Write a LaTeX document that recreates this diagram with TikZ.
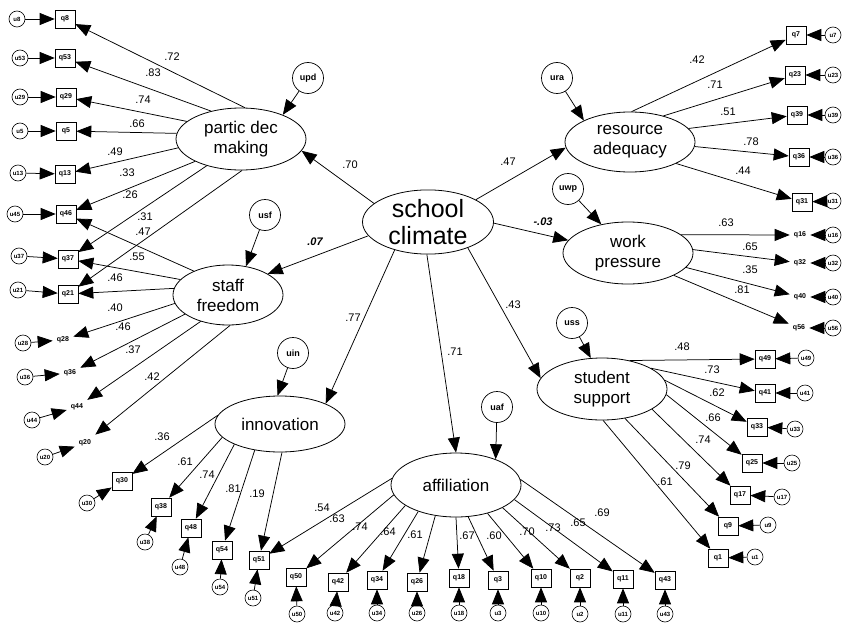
\documentclass[tikz,border=0pt]{standalone}
\usepackage{fontspec}
\setmainfont{Liberation Sans}
\usetikzlibrary{shapes.geometric,arrows.meta}
\begin{document}
\begin{tikzpicture}[x=1pt,y=-1pt,
  lat/.style={ellipse, draw, line width=0.8pt, minimum width=130pt, minimum height=62pt, inner sep=0pt, align=center, font=\fontsize{17}{20}\selectfont},
  obs/.style={rectangle, draw, line width=0.6pt, minimum width=20pt, minimum height=18pt, inner sep=0pt, font=\fontsize{7}{7}\selectfont\bfseries},
  obsn/.style={obs, draw=none},
  err/.style={circle, draw, line width=0.6pt, minimum size=16pt, inner sep=0pt, font=\fontsize{6}{6}\selectfont\bfseries},
  lerr/.style={circle, draw, line width=0.7pt, minimum size=31pt, inner sep=0pt, font=\fontsize{9}{9}\selectfont\bfseries},
  pa/.style={-{Triangle[length=15pt,width=12pt]}, line width=0.75pt},
  lbl/.style={font=\fontsize{11}{11}\selectfont, inner sep=0pt},
  lbli/.style={font=\fontsize{11}{11}\selectfont\bfseries\itshape, inner sep=0pt}]
\useasboundingbox (0,0) rectangle (842,623);
\fill[white] (0,0) rectangle (842,623);

% latent variables
\node[lat, minimum width=131pt, minimum height=52pt, font=\fontsize{25}{27}\selectfont] (sc) at (428,222) {school\\climate};
\node[lat] (pdm) at (241,139) {partic dec\\making};
\node[lat, minimum width=110pt, minimum height=60pt] (sf) at (228,295) {staff\\freedom};
\node[lat, minimum height=56pt] (inn) at (280,424) {innovation};
\node[lat, minimum height=64pt] (aff) at (456,485) {affiliation};
\node[lat, minimum height=60pt] (ra) at (630,142) {resource\\adequacy};
\node[lat] (wp) at (628,253) {work\\pressure};
\node[lat] (ss) at (602,389) {student\\support};

% latent disturbances
\node[lerr] (upd) at (308,78) {upd};
\node[lerr] (usf) at (265,215) {usf};
\node[lerr] (uin) at (293,353) {uin};
\node[lerr] (uaf) at (497,407) {uaf};
\node[lerr] (ura) at (557,78) {ura};
\node[lerr] (uwp) at (568,189) {uwp};
\node[lerr] (uss) at (572,323) {uss};
\draw[pa] (upd) -- (pdm.30);
\draw[pa] (usf) -- (sf.58);
\draw[pa] (uin) -- (inn.95);
\draw[pa] (uaf) -- (aff.33);
\draw[pa] (ura) -- (ra.155);
\draw[pa] (uwp) -- (wp.133);
\draw[pa] (uss) -- (ss.110);

% structural paths
\draw[pa] (sc.161) -- (pdm.349);
\draw[pa] (sc.193) -- (sf.28);
\draw[pa] (sc.25) -- (ra.185);
\draw[pa] (sc.359) -- (wp.168);
\draw[pa] (sc.220) -- (inn.24);
\draw[pa] (sc.268) -- (aff.90);
\draw[pa] (sc.327) -- (ss.170);

% observed indicators with boxes
\foreach \nm/\tx/\bx/\by/\ex/\ey/\et in {
  q8/q8/65/19/17/19/u8, q53/q53/65/58/20/58/u53, q29/q29/66/97/20/97/u29,
  q5/q5/66/131/20/131/u5, q13/q13/65/174/18/173/u13, q46/q46/66/214/15/214/u45,
  q37/q37/68/259/19/256/u37, q21/q21/68/294/18/290/u21,
  q30/q30/122/481/87/503/u30, q38/q38/161/507/145/542/u38, q48/q48/191/528/180/567/u48,
  q54/q54/222/550/220/587/u54, q51/q51/259/560/253/598/u51,
  q50/q50/296/577/297/614/u50, q42/q42/338/582/335/613/u42, q34/q34/377/580/377/613/u34,
  q26/q26/417/582/417/613/u26, q18/q18/459/578/459/613/u18, q3/q3/498/580/498/613/u3,
  q10/q10/541/578/541/613/u10, q2/q2/580/578/580/614/u2, q11/q11/623/579/623/614/u11,
  q43/q43/665/580/665/614/u43,
  q1/q1/718/558/755/557/u1, q9/q9/728/526/768/525/u9, q17/q17/740/495/782/497/u17,
  q25/q25/752/463/792/463/u25, q33/q33/757/427/795/429/u33, q41/q41/765/393/805/393/u41,
  q49/q49/765/359/806/358/u49,
  q7/q7/796/35/833/35/u7, q23/q23/795/75/833/75/u23, q39/q39/797/115/833/115/u39,
  q36a/q36/799/157/833/157/u36, q31/q31/802/202/833/201/u31}{
  \node[obs] (\nm) at (\bx,\by) {\tx};
  \node[err] (e\nm) at (\ex,\ey) {\et};
  \draw[pa] (e\nm) -- (\nm);
}
% observed indicators printed without a box
\foreach \nm/\tx/\bx/\by/\ex/\ey/\et in {
  q28/q28/63/340/23/343/u28, q36b/q36/70/373/25/377/u36, q44/q44/77/407/32/420/u44,
  q20/q20/85/443/45/457/u20,
  q16/q16/800/235/833/235/u16, q32/q32/800/263/833/263/u32, q40/q40/800/297/833/297/u40,
  q56/q56/799/328/833/328/u56}{
  \node[obsn] (\nm) at (\bx,\by) {\tx};
  \node[err] (e\nm) at (\ex,\ey) {\et};
  \draw[pa] (e\nm) -- (\nm);
}

% loadings
\foreach \lv/\ang/\q in {
  pdm/83/q8, pdm/137/q53, pdm/162/q29, pdm/175/q5, pdm/188/q13, pdm/206/q46, pdm/218/q37, pdm/272/q21,
  sf/145/q46, sf/162/q37, sf/173/q21, sf/189/q28, sf/204/q36b, sf/224/q44, sf/274/q20,
  inn/172/q30, inn/193/q38, inn/204/q48, inn/226/q54, inn/274/q51,
  aff/174/q51, aff/189/q50, aff/202/q42, aff/215/q34, aff/236/q26, aff/270/q18, aff/291/q3,
  aff/318/q10, aff/334/q2, aff/346/q11, aff/5/q43,
  ss/46/q49, ss/23/q41, ss/8/q33, ss/355/q25, ss/338/q17, ss/308/q9, ss/272/q1,
  wp/19/q16, wp/3/q32, wp/346/q40, wp/334/q56,
  ra/87/q7, ra/38/q23, ra/13/q39, ra/356/q36a, ra/335/q31}{
  \draw[pa] (\lv.\ang) -- (\q);
}

% coefficient labels
\foreach \tx/\x/\y [count=\i] in {
  .72/172/57, .83/153/73, .74/143/100, .66/137/124, .49/115/152, .33/127/173,
  .26/130/195, .31/145/217, .47/143/232, .55/137/257, .46/115/278, .40/115/308,
  .46/123/327, .37/133/350, .42/152/377,
  .36/162/437, .61/185/462, .74/207/475, .81/233/489, .19/257/494,
  .54/322/508, .63/337/519, .74/360/527, .64/388/532, .61/415/535, .67/467/536,
  .60/494/536, .70/527/532, .73/553/528, .65/578/523, .69/602/513,
  .48/682/347, .73/712/370, .62/717/393, .66/713/418, .74/703/440, .79/683/466, .61/665/482,
  .63/726/223, .65/750/247, .35/750/270, .81/742/290,
  .42/697/60, .71/715/85, .51/728/112, .78/751/142, .44/743/171,
  .70/350/165, .47/508/162, .77/353/318, .71/455/352, .43/513/305}{
  \node[lbl] (l\i) at (\x,\y) {\tx};
}
\node[lbli] (l07) at (315,242) {.07};
\node[lbli] (l03) at (543,222) {-.03};
\end{tikzpicture}
\end{document}
